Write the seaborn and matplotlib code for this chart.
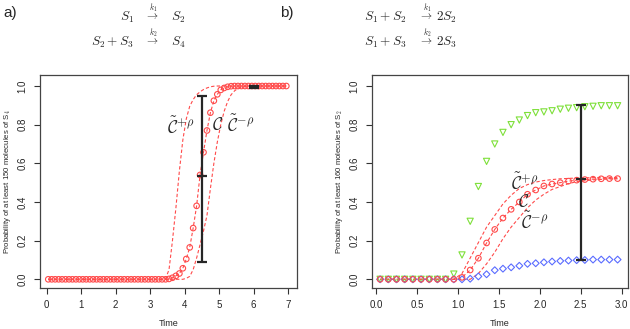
import matplotlib
matplotlib.use("Agg")
import matplotlib.pyplot as plt
import seaborn as sns

# ---- panel a) data: S1 -> S2, S2 + S3 -> S4 ----
time_a = [round(0.05 + 0.1 * i, 2) for i in range(70)]
prob_a = [0.0] * 34 + [0.0, 0.002, 0.008, 0.018, 0.03, 0.057, 0.105, 0.165, 0.265, 0.38,
                       0.54, 0.657, 0.77, 0.862, 0.924, 0.957, 0.98, 0.99, 0.996, 0.999] + [1.0] * 16
upper_a = [0.0] * 34 + [0.003, 0.05, 0.2, 0.37, 0.56, 0.72, 0.83, 0.895, 0.93, 0.955,
                        0.97, 0.982, 0.99, 0.996, 0.999] + [1.0] * 21
lower_a = [0.0] * 39 + [0.0, 0.005, 0.015, 0.05, 0.11, 0.18, 0.25, 0.33, 0.47, 0.6,
                        0.71, 0.8, 0.87, 0.92, 0.955, 0.975, 0.988, 0.995, 0.998] + [1.0] * 12
err_a_x = [4.5, 6.0]
err_a_lo = [0.09, 0.992]
err_a_mid = [0.535, 0.996]
err_a_hi = [0.95, 1.0]

# ---- panel b) data: S1 + S2 -> 2S2, S1 + S3 -> 2S3 ----
time_b = [round(0.05 + 0.1 * i, 2) for i in range(30)]
prob_b = [0.0] * 10 + [0.01, 0.048, 0.109, 0.188, 0.258, 0.317, 0.362, 0.40, 0.44, 0.462,
                       0.483, 0.493, 0.50, 0.508, 0.513, 0.516, 0.518, 0.52, 0.521, 0.521]
upper_b = [0.0] * 10 + [0.03, 0.11, 0.19, 0.27, 0.33, 0.39, 0.435, 0.47, 0.49, 0.503,
                        0.511, 0.516, 0.52, 0.522, 0.524, 0.525, 0.526, 0.527, 0.527, 0.527]
lower_b = [0.0] * 12 + [0.03, 0.08, 0.14, 0.21, 0.27, 0.32, 0.37, 0.41, 0.44, 0.465,
                        0.48, 0.495, 0.505, 0.51, 0.514, 0.517, 0.519, 0.52]
green_b = [0.0] * 9 + [0.027, 0.126, 0.30, 0.48, 0.61, 0.70, 0.76, 0.80, 0.824, 0.847,
                       0.862, 0.866, 0.872, 0.88, 0.885, 0.888, 0.893, 0.895, 0.898, 0.898, 0.898]
blue_b = [0.0] * 11 + [0.003, 0.015, 0.026, 0.047, 0.055, 0.062, 0.07, 0.08, 0.083, 0.088,
                       0.092, 0.095, 0.097, 0.099, 0.10, 0.102, 0.102, 0.102, 0.102]
err_b_x = [2.5]
err_b_lo = [0.10]
err_b_mid = [0.517]
err_b_hi = [0.90]

RED = "#ff4a4a"
GREEN = "#7ee03a"
BLUE = "#5a6cff"
BAR = "#262626"

sns.set_style("white")
plt.rcParams['font.family'] = ['Liberation Sans', 'DejaVu Sans']
plt.rcParams['mathtext.fontset'] = 'cm'

W, H = 630, 329
fig = plt.figure(figsize=(W / 100, H / 100), dpi=100)


def px_axes(l, t, r, b):
    return fig.add_axes([l / W, 1 - b / H, (r - l) / W, (b - t) / H])


ax1 = px_axes(40, 75, 297, 288)
ax2 = px_axes(372, 75, 628, 288)


def curve(ax, x, y, lw=0.8):
    sns.lineplot(x=x, y=y, ax=ax, color=RED, linewidth=lw, linestyle=(0, (3, 2)),
                 estimator=None, sort=False)


def points(ax, x, y, marker, color, s):
    sns.scatterplot(x=x, y=y, ax=ax, marker=marker, s=s, facecolor='none',
                    edgecolor=color, linewidth=0.8, zorder=3)


def bars(ax, x, lo, mid, hi):
    for xi, l, m, h in zip(x, lo, mid, hi):
        ax.errorbar([xi], [m], yerr=[[m - l], [h - m]], fmt='_', color=BAR,
                    ecolor=BAR, elinewidth=1.6, capsize=3.6, capthick=1.6,
                    markersize=7.5, markeredgewidth=1.6, zorder=4)


# panel a
curve(ax1, time_a, upper_a)
curve(ax1, time_a, lower_a)
curve(ax1, time_a, prob_a)
points(ax1, time_a, prob_a, 'o', RED, 16)
bars(ax1, err_a_x, err_a_lo, err_a_mid, err_a_hi)
ax1.set_xlim(-0.19, 7.26)
ax1.set_xticks(range(0, 8))
ax1.set_ylabel("Probability of at least 150 molecules of S$_4$", fontsize=5.6, labelpad=3)
lab_kw = dict(fontsize=12.5, ha='center', va='center')
ax1.text(3.9, 0.79, r'$\tilde{\mathcal{C}}^{+\rho}$', **lab_kw)
ax1.text(4.95, 0.80, r'$\mathcal{C}$', **lab_kw)
ax1.text(5.62, 0.80, r'$\tilde{\mathcal{C}}^{-\rho}$', **lab_kw)

# panel b
curve(ax2, time_b, upper_b)
curve(ax2, time_b, lower_b)
curve(ax2, time_b, prob_b)
points(ax2, time_b, green_b, 'v', GREEN, 20)
points(ax2, time_b, blue_b, 'D', BLUE, 12)
points(ax2, time_b, prob_b, 'o', RED, 16)
bars(ax2, err_b_x, err_b_lo, err_b_mid, err_b_hi)
ax2.set_xlim(-0.049, 3.077)
ax2.set_xticks([0.0, 0.5, 1.0, 1.5, 2.0, 2.5, 3.0])
ax2.set_ylabel("Probability of at least 160 molecules of S$_2$", fontsize=5.6, labelpad=3)
ax2.text(1.82, 0.50, r'$\tilde{\mathcal{C}}^{+\rho}$', **lab_kw)
ax2.text(1.80, 0.40, r'$\mathcal{C}$', **lab_kw)
ax2.text(1.94, 0.30, r'$\tilde{\mathcal{C}}^{-\rho}$', **lab_kw)

for ax in (ax1, ax2):
    ax.set_ylim(-0.045, 1.057)
    ax.set_yticks([0.0, 0.2, 0.4, 0.6, 0.8, 1.0])
    ax.set_yticklabels(["0.0", "0.2", "0.4", "0.6", "0.8", "1.0"], rotation=90, va='center')
    if ax is ax2:
        ax.set_xticklabels(["0.0", "0.5", "1.0", "1.5", "2.0", "2.5", "3.0"])
    ax.set_xlabel("Time", fontsize=6.5, labelpad=6)
    ax.tick_params(direction='out', length=4, width=0.8, labelsize=7, pad=5,
                   color='#333333', bottom=True, left=True)
    for sp in ax.spines.values():
        sp.set_color('#444444')
        sp.set_linewidth(0.9)

# reaction equations in the header
def fx(x):
    return x / W


def fy(y):
    return 1 - y / H


eq = dict(fontsize=9.5, va='baseline')
arr = dict(fontsize=8, va='baseline', ha='center')
fig.text(fx(3), fy(17), "a)", fontsize=11, va='baseline')
fig.text(fx(134), fy(21), r'$S_1$', ha='right', **eq)
fig.text(fx(152), fy(20), r'$\overset{k_1}{\rightarrow}$', **arr)
fig.text(fx(171), fy(21), r'$S_2$', ha='left', **eq)
fig.text(fx(134), fy(46), r'$S_2 + S_3$', ha='right', **eq)
fig.text(fx(152), fy(45), r'$\overset{k_2}{\rightarrow}$', **arr)
fig.text(fx(171), fy(46), r'$S_4$', ha='left', **eq)

fig.text(fx(280), fy(17), "b)", fontsize=11, va='baseline')
fig.text(fx(407), fy(21), r'$S_1 + S_2$', ha='right', **eq)
fig.text(fx(426), fy(20), r'$\overset{k_1}{\rightarrow}$', **arr)
fig.text(fx(436), fy(21), r'$2S_2$', ha='left', **eq)
fig.text(fx(407), fy(46), r'$S_1 + S_3$', ha='right', **eq)
fig.text(fx(426), fy(45), r'$\overset{k_2}{\rightarrow}$', **arr)
fig.text(fx(436), fy(46), r'$2S_3$', ha='left', **eq)

fig.savefig("out.png", dpi=100)
